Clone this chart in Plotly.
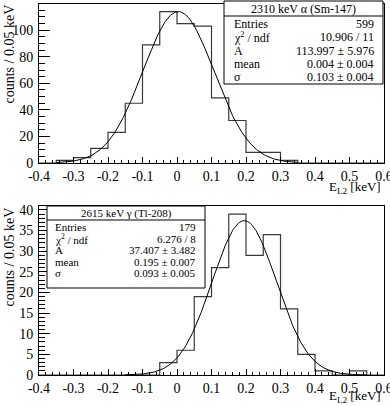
import numpy as np
import plotly.graph_objects as go

# histogram binning (20 bins of 0.05 keV from -0.4 to 0.6)
bin_edges = [round(-0.4 + 0.05 * i, 2) for i in range(21)]

# 2310 keV alpha (Sm-147)
alpha_counts = [0, 2, 4, 11, 23, 45, 89, 114, 105, 103, 49, 32, 8, 8, 2, 0, 0, 0, 0, 0]
alpha_fit = {"A": 113.997, "mean": 0.004, "sigma": 0.103}
alpha_fit_range = (-0.35, 0.35)
alpha_stats = [("Entries", "599"), ("χ<sup>2</sup> / ndf", "10.906 / 11"),
               ("A", "113.997 ± 5.976"), ("mean", "0.004 ± 0.004"),
               ("σ", "0.103 ± 0.004")]

# 2615 keV gamma (Tl-208)
gamma_counts = [0, 0, 0, 0, 0, 0, 0, 3, 6, 19, 26, 39, 29, 34, 16, 5, 1, 0, 1, 0]
gamma_fit = {"A": 37.407, "mean": 0.195, "sigma": 0.093}
gamma_fit_range = (-0.15, 0.55)
gamma_stats = [("Entries", "179"), ("χ<sup>2</sup> / ndf", "6.276 / 8"),
               ("A", "37.407 ± 3.482"), ("mean", "0.195 ± 0.007"),
               ("σ", "0.093 ± 0.005")]

x_tick_vals = [-0.4, -0.3, -0.2, -0.1, 0, 0.1, 0.2, 0.3, 0.4, 0.5, 0.6]
x_tick_text = ["-0.4", "-0.3", "-0.2", "-0.1", "0", "0.1", "0.2", "0.3", "0.4", "0.5", "0.6"]

W, H = 390, 406
L, R = 39, 6
FONT = "Liberation Serif"


def px(x):
    return (x - L) / (W - L - R)


def py(y):
    return 1 - y / H


fig = go.Figure()


def add_hist(counts, fit, fit_range, xa, ya):
    xs = [bin_edges[0]] + bin_edges
    ys = [0] + list(counts) + [0]
    fig.add_trace(go.Scatter(x=xs, y=ys, mode="lines", line_shape="hv",
                             line=dict(color="#3a3a3a", width=1.2),
                             xaxis=xa, yaxis=ya, hoverinfo="skip"))
    xf = np.linspace(fit_range[0], fit_range[1], 300)
    yf = fit["A"] * np.exp(-0.5 * ((xf - fit["mean"]) / fit["sigma"]) ** 2)
    fig.add_trace(go.Scatter(x=xf, y=yf, mode="lines",
                             line=dict(color="black", width=1),
                             xaxis=xa, yaxis=ya, hoverinfo="skip"))


add_hist(alpha_counts, alpha_fit, alpha_fit_range, "x", "y")
add_hist(gamma_counts, gamma_fit, gamma_fit_range, "x2", "y2")

xcommon = dict(range=[-0.4, 0.6], tickvals=x_tick_vals, ticktext=x_tick_text,
               ticks="inside", ticklen=6, tickcolor="black", ticklabeloverflow="allow",
               minor=dict(dtick=0.02, tick0=-0.4, ticks="inside", ticklen=3, tickcolor="black"),
               showline=True, linecolor="black", linewidth=1, mirror=True,
               showgrid=False, zeroline=False, automargin=False,
               tickfont=dict(family=FONT, size=14, color="black"))
ycommon = dict(ticks="inside", ticklen=11, tickcolor="black",
               showline=True, linecolor="black", linewidth=1, mirror=True,
               showgrid=False, zeroline=False, ticklabelstandoff=2, automargin=False,
               tickfont=dict(family=FONT, size=14, color="black"))

fig.update_layout(
    template="none",
    width=W, height=H, margin=dict(l=L, r=R, t=0, b=0),
    paper_bgcolor="white", plot_bgcolor="white", showlegend=False,
    xaxis=dict(domain=[0, 1], anchor="y", **xcommon),
    yaxis=dict(domain=[py(163), py(4)], anchor="x", range=[0, 119.7], dtick=20,
               minor=dict(dtick=5, ticks="inside", ticklen=6, tickcolor="black"), **ycommon),
    xaxis2=dict(domain=[0, 1], anchor="y2", **xcommon),
    yaxis2=dict(domain=[py(375), py(206)], anchor="x2", range=[0, 40.95], dtick=5,
                minor=dict(dtick=1, ticks="inside", ticklen=6, tickcolor="black"), **ycommon),
)

shapes = []
annots = []


def stat_box(x0, x1, y0, y1, ysep, header, ycenter_header, rows, row_ys, lx, rx, fs):
    shapes.append(dict(type="rect", xref="paper", yref="paper",
                       x0=px(x0), x1=px(x1), y0=py(y1), y1=py(y0),
                       line=dict(color="black", width=1), fillcolor="white", layer="above"))
    shapes.append(dict(type="line", xref="paper", yref="paper",
                       x0=px(x0), x1=px(x1), y0=py(ysep), y1=py(ysep),
                       line=dict(color="black", width=1), layer="above"))
    annots.append(dict(text=header, x=px((x0 + x1) / 2), y=py(ycenter_header),
                       xanchor="center", yanchor="middle", font=dict(size=fs)))
    for (lab, val), yy in zip(rows, row_ys):
        annots.append(dict(text=lab, x=px(lx), y=py(yy), xanchor="left", yanchor="middle",
                           font=dict(size=fs)))
        annots.append(dict(text=val, x=px(rx), y=py(yy), xanchor="right", yanchor="middle",
                           font=dict(size=fs)))


stat_box(224, 383, 1, 84, 16, "2310 keV α (Sm-147)", 9, alpha_stats,
         [24, 37.5, 51, 63.5, 77], 232, 376, 12)
stat_box(47, 205, 206, 288, 220, "2615 keV γ (Tl-208)", 213, gamma_stats,
         [227, 238.5, 250, 261.5, 273], 53, 198, 11)

# axis titles
for ymid in (3, 206):
    annots.append(dict(text="counts / 0.05 keV", x=px(9), y=py(ymid), textangle=-90,
                       xanchor="center", yanchor="top", font=dict(size=14)))
for yt in (187, 396):
    annots.append(dict(text="E<sub>L2</sub> [keV]", x=px(383), y=py(yt),
                       xanchor="right", yanchor="middle", font=dict(size=13)))

for a in annots:
    a["font"] = dict(family=FONT, color="black", size=a["font"]["size"])
    a.update(xref="paper", yref="paper", showarrow=False)

fig.update_layout(shapes=shapes, annotations=annots)
fig.write_html("out.html", config={"displayModeBar": False},
               post_script="document.body.style.margin='0';")
